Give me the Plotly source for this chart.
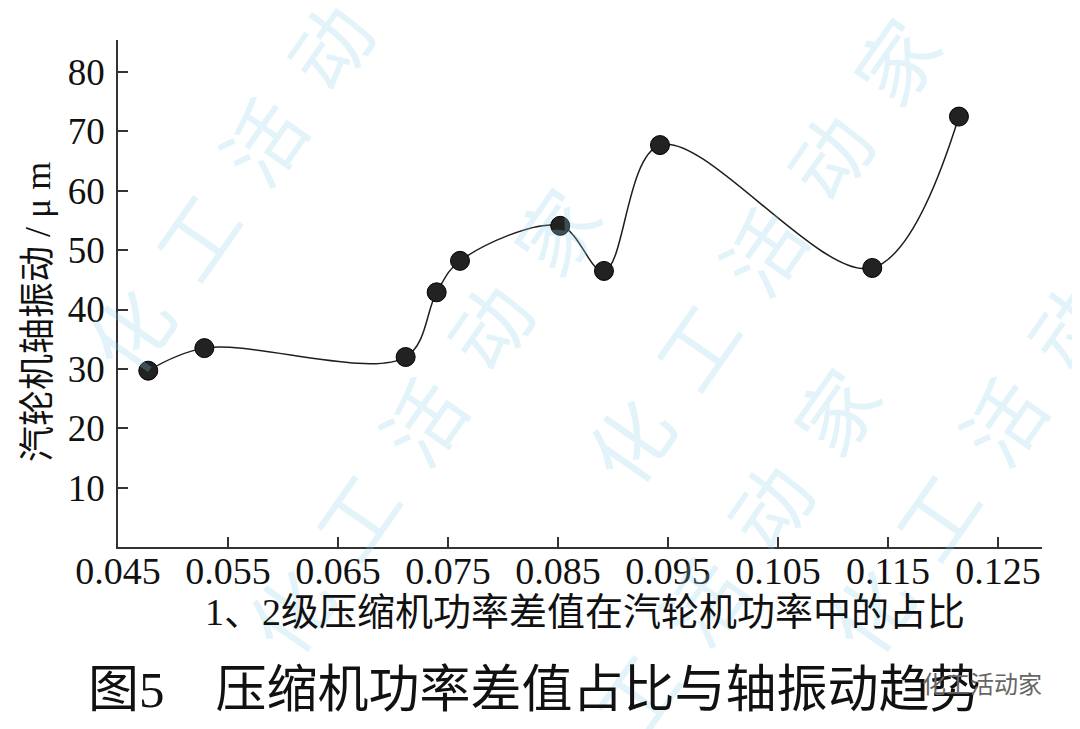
import plotly.graph_objects as go

# data
power_diff_ratio = [0.04775, 0.05285, 0.07115, 0.07397, 0.07609, 0.0852, 0.08918, 0.09427, 0.11357, 0.12145]
shaft_vibration = [29.7, 33.5, 32.0, 42.9, 48.2, 54.1, 46.5, 67.7, 47.0, 72.5]
x_ticks = [0.045, 0.055, 0.065, 0.075, 0.085, 0.095, 0.105, 0.115, 0.125]
x_tick_text = ["0.045", "0.055", "0.065", "0.075", "0.085", "0.095", "0.105", "0.115", "0.125"]
y_ticks = [10, 20, 30, 40, 50, 60, 70, 80]

x_title = "1、2级压缩机功率差值在汽轮机功率中的占比"
y_title = "汽轮机轴振动 / μ m"
fig_title = "图5　压缩机功率差值占比与轴振动趋势"
wm_word = "化工活动家"

FONT = "Liberation Serif, Noto Sans CJK SC, serif"

W, H = 1080, 729
OFF = 8  # page body margin offset
# plot area in screen pixels: x 118..1042, y 40..547
L = 118 - OFF
T = 40 - OFF
R = (W + OFF) - 1042
B = (H + OFF) - 547
PW, PH = W - L - R, H - T - B


def px(xs):
    return (xs - OFF - L) / PW


def py(ys):
    return (H - B - (ys - OFF)) / PH


fig = go.Figure()
fig.add_trace(go.Scatter(
    x=power_diff_ratio, y=shaft_vibration,
    mode="lines+markers",
    line=dict(color="#1e1e1e", width=1.5, shape="spline", smoothing=1.0),
    marker=dict(size=19, color="#222222", line=dict(color="#000000", width=1)),
    showlegend=False,
))

annotations = []
# faint watermark bands
wm_text = "  ".join(list(wm_word))
for cx, cy in [(260, 140), (420, 420), (760, 250), (700, 600), (1000, 420)]:
    annotations.append(dict(
        text=wm_text, x=px(cx), y=py(cy), xref="paper", yref="paper",
        showarrow=False, textangle=-55, opacity=0.25,
        font=dict(family="Noto Sans CJK SC", size=80, color="#8fd0ee"),
        xanchor="center", yanchor="middle",
    ))

annotations += [
    dict(text=y_title, x=px(38), y=py(312), xref="paper", yref="paper",
         showarrow=False, textangle=-90, xanchor="center", yanchor="middle",
         font=dict(family=FONT, size=36, color="#111111")),
    dict(text=x_title, x=px(585), y=py(612), xref="paper", yref="paper",
         showarrow=False, xanchor="center", yanchor="middle",
         font=dict(family=FONT, size=38, color="#111111")),
    dict(text=fig_title, x=px(534), y=py(690), xref="paper", yref="paper",
         showarrow=False, xanchor="center", yanchor="middle",
         font=dict(family=FONT, size=51, color="#111111")),
    dict(text=wm_word, x=px(920), y=py(682), xref="paper", yref="paper",
         showarrow=False, xanchor="left", yanchor="middle",
         font=dict(family="Noto Sans CJK SC", size=24, color="#666666")),
]

fig.update_layout(
    width=W, height=H,
    margin=dict(l=L, r=R, t=T, b=B, pad=0, autoexpand=False),
    paper_bgcolor="white", plot_bgcolor="white",
    annotations=annotations,
    font=dict(family=FONT, color="#111111"),
)
fig.update_xaxes(
    range=[0.045, 0.129], tickvals=x_ticks, ticktext=x_tick_text,
    showline=True, linecolor="#333333", linewidth=1.5, mirror=False,
    ticks="inside", ticklen=10, tickcolor="#333333", tickwidth=1.5,
    showgrid=False, zeroline=False,
    tickfont=dict(family=FONT, size=38, color="#111111"),
    ticklabelstandoff=-10,
)
fig.update_yaxes(
    range=[0, 85.4], tickvals=y_ticks,
    showline=True, linecolor="#333333", linewidth=1.5, mirror=False,
    ticks="inside", ticklen=10, tickcolor="#333333", tickwidth=1.5,
    showgrid=False, zeroline=False,
    tickfont=dict(family=FONT, size=37, color="#111111"),
    ticklabelstandoff=4,
)

fig.write_html("out.html")
